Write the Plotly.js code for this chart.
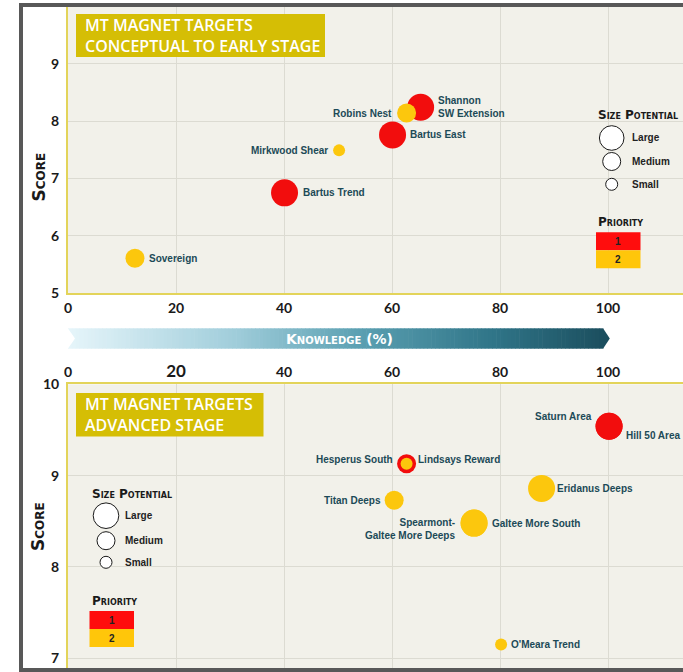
<!DOCTYPE html>
<html>
<head>
<meta charset="utf-8">
<script src="https://cdn.plot.ly/plotly-3.0.1.min.js"></script>
<style>html,body{margin:0;padding:0;background:#fff;}#chart{width:683px;height:672px;}</style>
</head>
<body>
<div id="chart"></div>
<script>
// ---------- DATA ----------
const xTicks = [0, 20, 40, 60, 80, 100];
const xTickText = ['0', '20', '40', '60', '80', '100'];
const topYTicks = [5, 6, 7, 8, 9];
const botYTicks = [7, 8, 9, 10];

// Conceptual to early stage
const topNames = ['Sovereign', 'Bartus Trend', 'Mirkwood Shear', 'Bartus East', 'Shannon<br>SW Extension', 'Robins Nest'];
const topKnowledge = [12.4, 40.1, 50.2, 60.1, 65.3, 62.7];
const topScore = [5.61, 6.75, 7.49, 7.76, 8.24, 8.14];
const topSize = ['Medium', 'Large', 'Small', 'Large', 'Large', 'Medium'];
const topPriority = [2, 1, 2, 1, 1, 2];

// Advanced stage
const botNames = ['Saturn Area', 'Hill 50 Area', 'Lindsays Reward', 'Hesperus South', 'Titan Deeps', 'Eridanus Deeps', 'Galtee More South', 'Spearmont-<br>Galtee More Deeps', "O'Meara Trend"];
const botKnowledge = [100.2, 100.2, 62.7, 62.7, 60.4, 87.7, 75.2, 75.2, 80.2];
const botScore = [9.54, 9.54, 9.13, 9.13, 8.73, 8.86, 8.48, 8.48, 7.15];
const botSize = ['Large', 'Large', 'Medium', 'Small', 'Medium', 'Large', 'Large', 'Large', 'Small'];
const botPriority = [1, 1, 1, 2, 2, 2, 2, 2, 2];

// ---------- STYLE ----------
const sizePx = {Large: 27, Medium: 19, Small: 12};
const prioColor = {1: '#f20d0d', 2: '#fcc70d'};
// label placement: side of the bubble, pixel gap from centre, vertical pixel shift
const labelStyle = {
  'Sovereign': ['left', 14, 0], 'Bartus Trend': ['left', 18, 0], 'Mirkwood Shear': ['right', -11, 0],
  'Bartus East': ['left', 17.3, 0], 'Shannon<br>SW Extension': ['left', 17.6, 0], 'Robins Nest': ['right', -14.4, 0],
  'Saturn Area': ['right', -17, -10], 'Hill 50 Area': ['left', 17, 9], 'Lindsays Reward': ['left', 11.5, -4],
  'Hesperus South': ['right', -13.7, -4], 'Titan Deeps': ['right', -13, 0], 'Eridanus Deeps': ['left', 15.5, 0],
  'Galtee More South': ['left', 18, 0], 'Spearmont-<br>Galtee More Deeps': ['right', -19, 6], "O'Meara Trend": ['left', 10, 0]
};
const W = 683, H = 672;
const px = v => v / W;
const py = v => 1 - v / H;
const labelFont = {family: 'Liberation Sans, Arial, sans-serif', size: 10, color: '#1c4a57', weight: 700};
const tickFont = {family: 'Lato, Liberation Sans, sans-serif', size: 14, color: '#1a1a1a', weight: 700};
const capsFont = (size, color) => ({family: 'DejaVu Sans, Verdana, sans-serif', size: size, color: color, weight: 700, variant: 'small-caps'});
const yellowLine = '#e3d45a';
const gridCol = '#dcdbd2';

function bubbleTrace(x, y, sizes, prios, xa, ya) {
  return {
    type: 'scatter', mode: 'markers', x: x, y: y,
    marker: {size: sizes.map(s => sizePx[s]), color: prios.map(p => prioColor[p]), line: {width: 0}, opacity: 1},
    xaxis: xa, yaxis: ya, hoverinfo: 'skip', cliponaxis: false, showlegend: false
  };
}

const data = [
  bubbleTrace(topKnowledge, topScore, topSize, topPriority, 'x', 'y'),
  bubbleTrace(botKnowledge, botScore, botSize, botPriority, 'x2', 'y2')
];

const xRange = [0, (W - 68) / 5.4];
const shapes = [];
const annotations = [];

function addLabels(names, xs, ys, xref, yref) {
  names.forEach((n, i) => {
    const st = labelStyle[n];
    annotations.push({xref: xref, yref: yref, x: xs[i], y: ys[i], text: n, showarrow: false,
      xanchor: st[0], yanchor: 'middle', align: st[0], xshift: st[1], yshift: -st[2],
      borderpad: 0, borderwidth: 0, font: labelFont});
  });
}
addLabels(topNames, topKnowledge, topScore, 'x', 'y');
addLabels(botNames, botKnowledge, botScore, 'x2', 'y2');

// Title boxes
function titleBox(x0, y0, x1, y1, text) {
  shapes.push({type: 'rect', xref: 'paper', yref: 'paper', x0: px(x0), x1: px(x1), y0: py(y1), y1: py(y0),
    fillcolor: '#d5be05', line: {width: 0}, layer: 'above'});
  annotations.push({xref: 'paper', yref: 'paper', x: px(x0 + 7), y: py((y0 + y1) / 2), xanchor: 'left', yanchor: 'middle',
    align: 'left', showarrow: false, text: text, font: {family: 'Open Sans, sans-serif', size: 16, color: '#ffffff', weight: 600}});
}
titleBox(76, 14, 325, 57, 'MT MAGNET TARGETS<br>CONCEPTUAL TO EARLY STAGE');
titleBox(76, 393, 263.5, 436.5, 'MT MAGNET TARGETS<br>ADVANCED STAGE');

// Custom legends
function legendBlock(lx, ty, circles, prTop) {
  annotations.push({xref: 'paper', yref: 'paper', x: px(lx), y: py(ty), xanchor: 'left', yanchor: 'middle',
    showarrow: false, text: 'Size Potential', font: capsFont(12, '#1a1a1a')});
  circles.forEach(c => {
    shapes.push({type: 'circle', xref: 'paper', yref: 'paper', x0: px(c.cx - c.r), x1: px(c.cx + c.r),
      y0: py(c.cy + c.r), y1: py(c.cy - c.r), fillcolor: '#ffffff', line: {color: '#1a1a1a', width: 1}, layer: 'above'});
    annotations.push({xref: 'paper', yref: 'paper', x: px(c.tx), y: py(c.cy), xanchor: 'left', yanchor: 'middle',
      showarrow: false, text: c.label, font: {family: 'Liberation Sans, Arial, sans-serif', size: 10, color: '#222', weight: 700}});
  });
  annotations.push({xref: 'paper', yref: 'paper', x: px(lx), y: py(prTop - 10), xanchor: 'left', yanchor: 'middle',
    showarrow: false, text: 'Priority', font: capsFont(12, '#1a1a1a')});
  [[1, '#ff0d0d'], [2, '#ffc60a']].forEach((p, i) => {
    const y0 = prTop + i * 18, y1 = y0 + 18;
    shapes.push({type: 'rect', xref: 'paper', yref: 'paper', x0: px(lx), x1: px(lx + 44.5), y0: py(y1), y1: py(y0),
      fillcolor: p[1], line: {width: 0}, layer: 'above'});
    annotations.push({xref: 'paper', yref: 'paper', x: px(lx + 22.3), y: py((y0 + y1) / 2), xanchor: 'center', yanchor: 'middle',
      showarrow: false, text: String(p[0]), font: {family: 'Liberation Sans, Arial, sans-serif', size: 10, color: '#222', weight: 700}});
  });
}
legendBlock(596, 114.5, [
  {cx: 611.7, cy: 138, r: 12.3, tx: 630, label: 'Large'},
  {cx: 611.7, cy: 161.5, r: 9, tx: 630, label: 'Medium'},
  {cx: 611.7, cy: 184.3, r: 6, tx: 630, label: 'Small'}
], 232.3);
legendBlock(89.5, 493.5, [
  {cx: 106, cy: 515.7, r: 12.8, tx: 123.3, label: 'Large'},
  {cx: 106, cy: 540.7, r: 9, tx: 123.3, label: 'Medium'},
  {cx: 106, cy: 562.3, r: 6, tx: 123.3, label: 'Small'}
], 611);

// Knowledge banner (gradient arrow)
const stops = [[0, [230, 245, 250]], [0.3, [163, 207, 220]], [0.55, [90, 159, 177]], [0.8, [47, 116, 135]], [1, [28, 79, 95]]];
function gradColor(t) {
  for (let i = 1; i < stops.length; i++) {
    if (t <= stops[i][0]) {
      const a = stops[i - 1], b = stops[i];
      const f = (t - a[0]) / (b[0] - a[0]);
      const c = a[1].map((v, k) => Math.round(v + (b[1][k] - v) * f));
      return 'rgb(' + c.join(',') + ')';
    }
  }
  return 'rgb(28,79,95)';
}
const bx0 = 68, bx1 = 603.3, bTop = 328.3, bBot = 348.7, bMid = 338.5;
const N = 140;
for (let i = 0; i < N; i++) {
  const xa = bx0 + (bx1 - bx0) * i / N, xb = bx0 + (bx1 - bx0) * (i + 1) / N + 0.6;
  shapes.push({type: 'rect', xref: 'paper', yref: 'paper', x0: px(xa), x1: px(Math.min(xb, bx1)), y0: py(bBot), y1: py(bTop),
    fillcolor: gradColor((i + 0.5) / N), line: {width: 0}, layer: 'above'});
}
shapes.push({type: 'path', xref: 'paper', yref: 'paper',
  path: 'M ' + px(bx1 - 0.3) + ' ' + py(bTop) + ' L ' + px(609.8) + ' ' + py(bMid) + ' L ' + px(bx1 - 0.3) + ' ' + py(bBot) + ' Z',
  fillcolor: 'rgb(28,79,95)', line: {width: 0}, layer: 'above'});
shapes.push({type: 'path', xref: 'paper', yref: 'paper',
  path: 'M ' + px(bx0 - 0.5) + ' ' + py(bTop - 0.5) + ' L ' + px(75) + ' ' + py(bMid) + ' L ' + px(bx0 - 0.5) + ' ' + py(bBot + 0.5) + ' Z',
  fillcolor: '#ffffff', line: {width: 0}, layer: 'above'});
annotations.push({xref: 'paper', yref: 'paper', x: px(339), y: py(338.5), xanchor: 'center', yanchor: 'middle',
  showarrow: false, text: 'Knowledge (%)', font: capsFont(14, '#ffffff')});

// Score titles
annotations.push({xref: 'paper', yref: 'paper', x: px(38), y: py(177.5), xanchor: 'center', yanchor: 'middle',
  showarrow: false, textangle: -90, text: 'Score', font: capsFont(17, '#1a1a1a')});
annotations.push({xref: 'paper', yref: 'paper', x: px(38), y: py(527), xanchor: 'center', yanchor: 'middle',
  showarrow: false, textangle: -90, text: 'Score', font: capsFont(17, '#1a1a1a')});

// Frame
shapes.push({type: 'rect', xref: 'paper', yref: 'paper', x0: px(21), x1: px(700), y0: py(670), y1: py(5),
  fillcolor: 'rgba(0,0,0,0)', line: {color: '#585858', width: 4}, layer: 'above'});

const axisCommon = {
  range: xRange, tickvals: xTicks, ticks: '', showgrid: true, gridcolor: gridCol, gridwidth: 1,
  zeroline: false, showline: true, linecolor: yellowLine, linewidth: 2, tickfont: tickFont, fixedrange: true
};

const layout = {
  width: W, height: H,
  margin: {l: 0, r: 0, t: 0, b: 0, pad: 0},
  paper_bgcolor: '#ffffff', plot_bgcolor: '#f2f1ea',
  showlegend: false,
  xaxis: Object.assign({}, axisCommon, {domain: [px(68), 1], anchor: 'y', side: 'bottom', ticktext: xTickText, ticklabelstandoff: 1}),
  yaxis: {domain: [py(293.3), py(7)], range: [5, 5 + (293.3 - 7) / 57.4], tickvals: topYTicks, ticks: '',
    showgrid: true, gridcolor: gridCol, zeroline: false, showline: true, linecolor: yellowLine, linewidth: 2,
    tickfont: tickFont, anchor: 'x', ticklabelstandoff: 4, fixedrange: true},
  xaxis2: Object.assign({}, axisCommon, {domain: [px(68), 1], anchor: 'y2', side: 'top',
    ticktext: xTickText.map((t, i) => i === 1 ? '<span style="font-size:17px">' + t + '</span>' : t), ticklabelstandoff: 0}),
  yaxis2: {domain: [py(668), py(384.3)], range: [10 - (668 - 384.3) / 91.3, 10], tickvals: botYTicks, ticks: '',
    showgrid: true, gridcolor: gridCol, zeroline: false, showline: true, linecolor: yellowLine, linewidth: 2,
    tickfont: tickFont, anchor: 'x2', ticklabelstandoff: 4, fixedrange: true},
  shapes: shapes,
  annotations: annotations
};

Plotly.newPlot('chart', data, layout, {staticPlot: true, displayModeBar: false});
</script>
</body>
</html>
